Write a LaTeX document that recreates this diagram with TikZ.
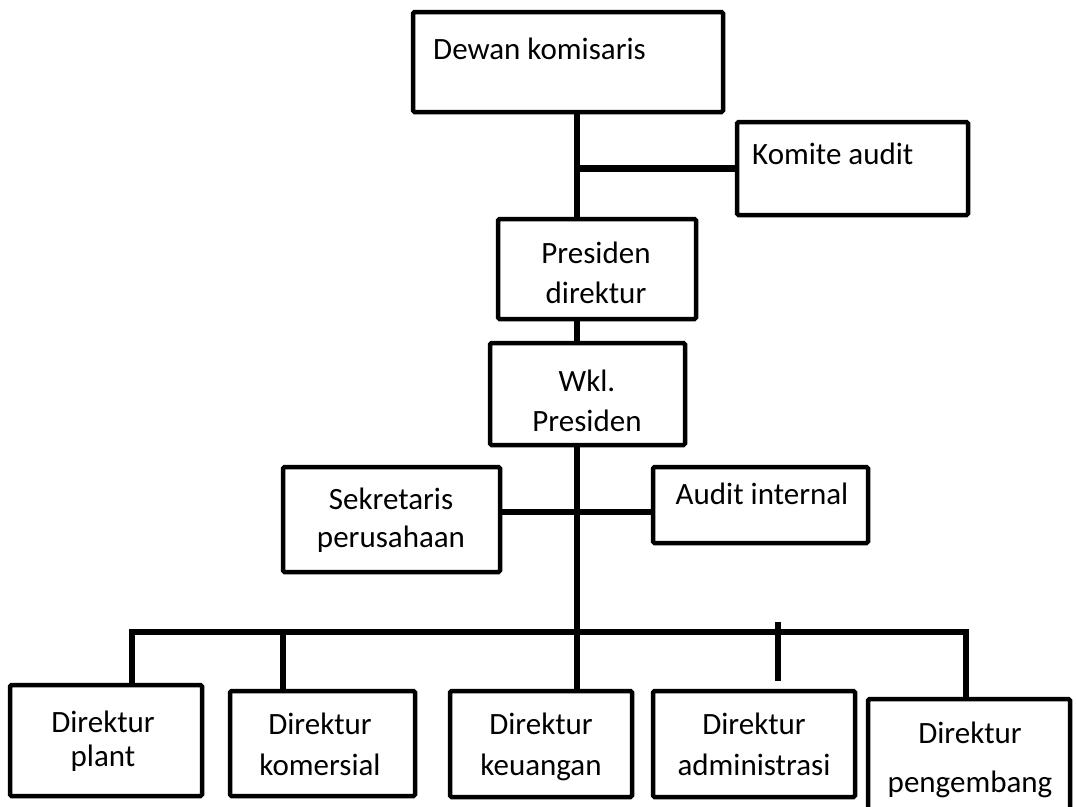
\documentclass[tikz,border=0pt]{standalone}
\usepackage{fontspec}
\setmainfont{Carlito}
\begin{document}
\begin{tikzpicture}[x=1pt,y=-1pt,
  box/.style={draw, line width=4.5pt, rounded corners=1.5pt, inner sep=0pt},
  lbl/.style={inner sep=0pt, align=center, anchor=north,
              font=\fontsize{31}{#1}\selectfont},
  lbl/.default=40,
  link/.style={line width=6.5pt, line join=miter}]
\useasboundingbox (0,0) rectangle (1076,806);

% boxes
\node[box, minimum width=310, minimum height=100] (dewan)  at (568,62)     {};
\node[box, minimum width=231, minimum height=93]  (komite) at (852.5,168.5) {};
\node[box, minimum width=198, minimum height=100] (pres)   at (597,269)    {};
\node[box, minimum width=195, minimum height=102] (wkl)    at (587.5,394)  {};
\node[box, minimum width=217, minimum height=105] (sek)    at (391.5,519.5) {};
\node[box, minimum width=215, minimum height=76]  (aud)    at (760.5,505)  {};
\node[box, minimum width=192, minimum height=111] (plant)  at (106,740.5)  {};
\node[box, minimum width=185, minimum height=105] (kom)    at (322.5,743.5) {};
\node[box, minimum width=182, minimum height=106] (keu)    at (541,744)    {};
\node[box, minimum width=202, minimum height=106] (adm)    at (754,744)    {};
\node[box, minimum width=202, minimum height=113] (peng)   at (969,755.5)  {};

% labels
\node[lbl, anchor=base west] (t-dewan)  at (433,59)  {Dewan komisaris};
\node[lbl, anchor=base west] (t-komite) at (752,164) {Komite audit};
\node[lbl=40] (t-pres)  at (596,235)  {\strut Presiden\\\strut direktur};
\node[lbl=40] (t-wkl)   at (587,363)  {\strut Wkl.\\\strut Presiden};
\node[lbl=38] (t-sek)   at (391,483)  {\strut Sekretaris\\\strut perusahaan};
\node[lbl, anchor=base] (t-aud) at (762,504) {Audit internal};
\node[lbl=34] (t-plant) at (103,708) {\strut Direktur\\\strut plant};
\node[lbl=41] (t-kom)   at (320,706)  {\strut Direktur\\\strut komersial};
\node[lbl=41] (t-keu)   at (541,706)  {\strut Direktur\\\strut keuangan};
\node[lbl=41] (t-adm)   at (754,706)  {\strut Direktur\\\strut administrasi};
\node[lbl=49] (t-peng)  at (970,709.2) {\strut Direktur\\\strut pengembang};

% junction points
\coordinate (trunk) at (577,0);
\coordinate (sekaud) at (0,512);
\coordinate (busL) at (132,632);
\coordinate (busR) at (966,632);
\coordinate (dropK) at (283,632);
\coordinate (stubTop) at (778,622);
\coordinate (stubEnd) at (778,681);

% connectors
\draw[link] (dewan.south -| trunk) -- (pres.north -| trunk);
\draw[link] (komite.west -| trunk) -- (komite.west);
\draw[link] (pres.south -| trunk) -- (wkl.north -| trunk);
\draw[link] (wkl.south -| trunk) -- (keu.north -| trunk);
\draw[link] (sek.east |- sekaud) -- (aud.west |- sekaud);
\draw[link] (plant.north -| busL) -- (busL) -- (busR) -- (peng.north -| busR);
\draw[link] (dropK) -- (kom.north -| dropK);
\draw[link] (stubTop) -- (stubEnd);
\end{tikzpicture}
\end{document}
